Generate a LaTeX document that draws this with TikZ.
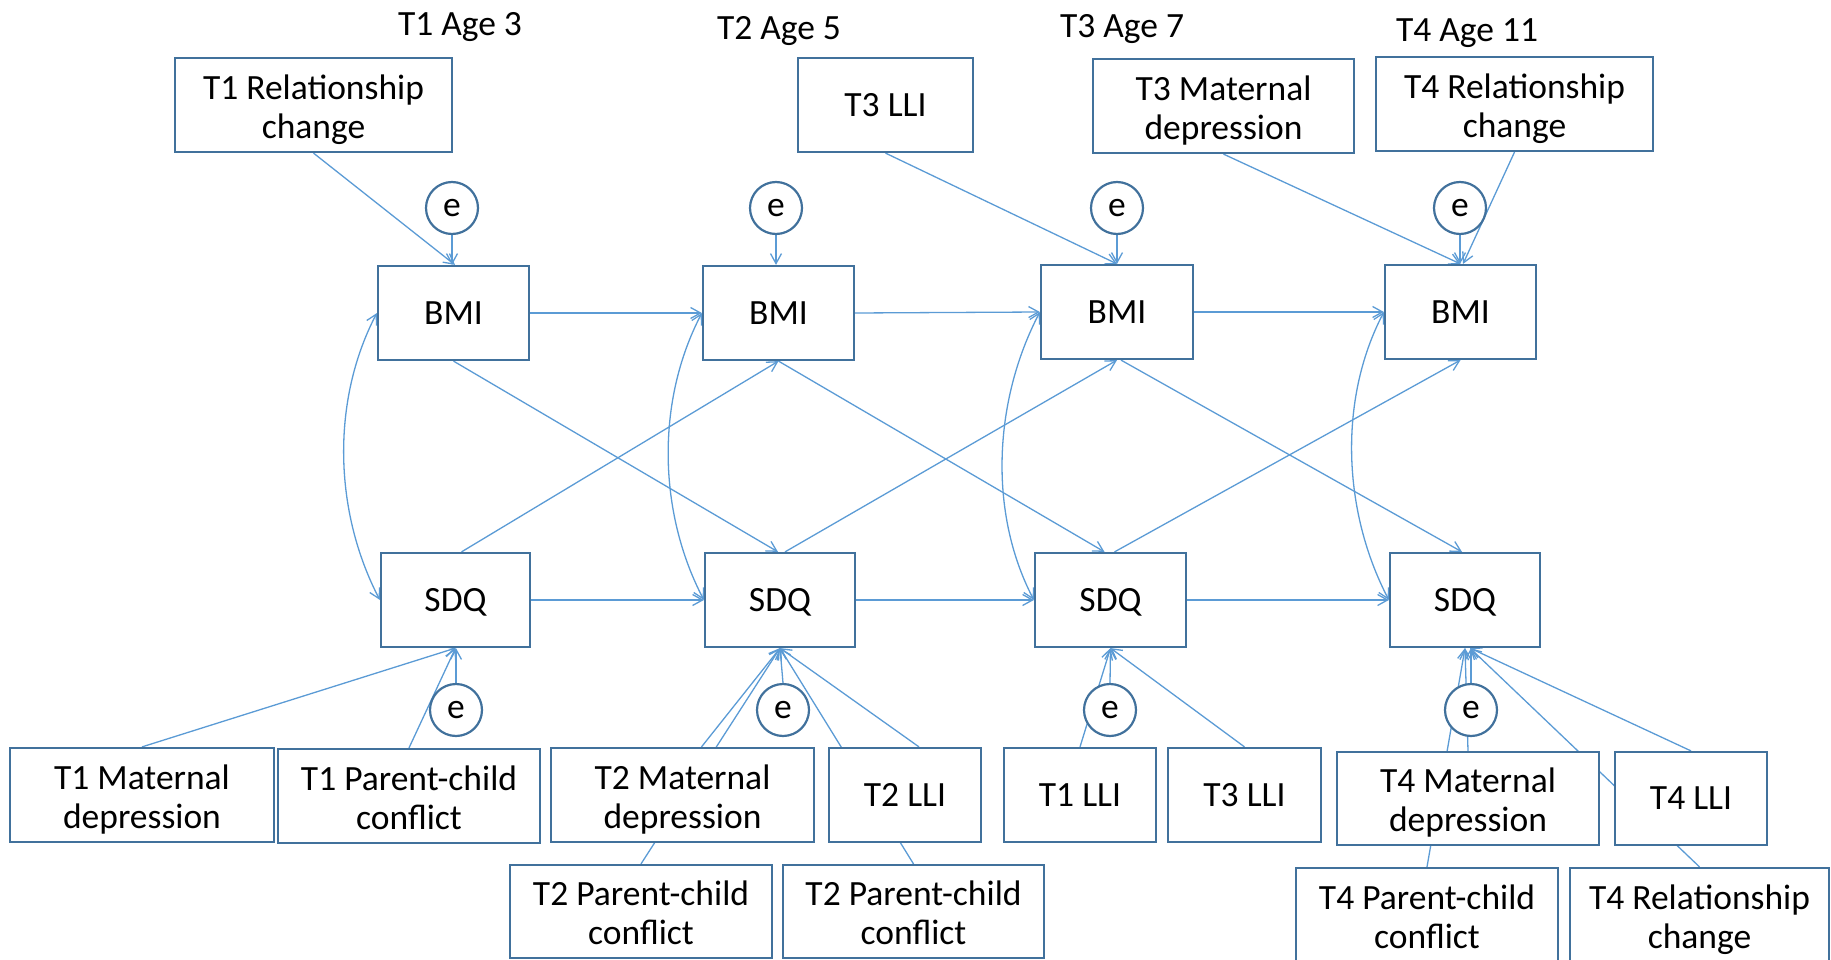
\documentclass[tikz,border=0pt]{standalone}
\usepackage{fontspec}
\setmainfont{Carlito}
\usetikzlibrary{arrows.meta}
\definecolor{boxblue}{HTML}{41719C}
\definecolor{linkblue}{HTML}{5B9BD5}
\pgfdeclarelayer{links}
\pgfsetlayers{links,main}
% centred lines of a box label, pushed down by half of the optional top padding
\newcommand\boxlines[2][7pt]{\raisebox{0pt}[\dimexpr\height+#1\relax][\depth]{\begin{tabular}{@{}c@{}}#2\end{tabular}}}
\begin{document}
\begin{tikzpicture}[x=1pt,y=-1pt,
  every node/.style={font=\fontsize{35.5}{39}\selectfont, text=black},
  box/.style={draw=boxblue, line width=2.2pt, fill=white, align=center, inner sep=0pt},
  ecirc/.style={circle, draw=boxblue, line width=2.2pt, fill=white, minimum size=52pt, inner sep=0pt},
  link/.style={draw=linkblue, line width=1.3pt, -{Straight Barb[length=10pt,width=11pt]}},
  dlink/.style={draw=linkblue, line width=1.3pt, {Straight Barb[length=10pt,width=11pt]}-{Straight Barb[length=10pt,width=11pt]}}
]
\useasboundingbox (0,0) rectangle (1831,960);

% wave headings
\node[anchor=base] (h1) at (460,35.5) {T1 Age 3};
\node[anchor=base] (h2) at (779,39.5) {T2 Age 5};
\node[anchor=base] (h3) at (1122,37.5) {T3 Age 7};
\node[anchor=base] (h4) at (1467,41.5) {T4 Age 11};

% predictors of BMI
\node[box, minimum width=277pt, minimum height=94pt] (rc1)  at (313.5,105) {\boxlines[11.5pt]{T1 Relationship\\change}};
\node[box, minimum width=175pt, minimum height=94pt] (lli3t) at (885.5,105) {\boxlines{T3 LLI}};
\node[box, minimum width=261pt, minimum height=94pt] (md3)  at (1223.5,106) {\boxlines[11.5pt]{T3 Maternal\\depression}};
\node[box, minimum width=277pt, minimum height=94pt] (rc4)  at (1514.5,104) {\boxlines[11.5pt]{T4 Relationship\\change}};

% residuals of BMI
\node[ecirc] (e1) at (452,208) {e};
\node[ecirc] (e2) at (776,208) {e};
\node[ecirc] (e3) at (1117,208) {e};
\node[ecirc] (e4) at (1460,208) {e};

% BMI row
\node[box, minimum width=151pt, minimum height=94pt] (bmi1) at (453.5,313) {\boxlines{BMI}};
\node[box, minimum width=151pt, minimum height=94pt] (bmi2) at (778.5,313) {\boxlines{BMI}};
\node[box, minimum width=152pt, minimum height=94pt] (bmi3) at (1117,312) {\boxlines{BMI}};
\node[box, minimum width=151pt, minimum height=94pt] (bmi4) at (1460.5,312) {\boxlines{BMI}};

% SDQ row
\node[box, minimum width=149pt, minimum height=94pt] (sdq1) at (455.5,600) {\boxlines{SDQ}};
\node[box, minimum width=150pt, minimum height=94pt] (sdq2) at (780,600) {\boxlines{SDQ}};
\node[box, minimum width=151pt, minimum height=94pt] (sdq3) at (1110.5,600) {\boxlines{SDQ}};
\node[box, minimum width=150pt, minimum height=94pt] (sdq4) at (1465,600) {\boxlines{SDQ}};

% residuals of SDQ
\node[ecirc] (e5) at (456,710) {e};
\node[ecirc] (e6) at (783,710) {e};
\node[ecirc] (e7) at (1110,710) {e};
\node[ecirc] (e8) at (1471,710) {e};

% predictors of SDQ, first row
\node[box, minimum width=264pt, minimum height=94pt] (md1)   at (142,795) {\boxlines[11.5pt]{T1 Maternal\\depression}};
\node[box, minimum width=262pt, minimum height=94pt] (pcc1)  at (409,796) {\boxlines[11.5pt]{T1 Parent-child\\conflict}};
\node[box, minimum width=263pt, minimum height=94pt] (md2)   at (682.5,795) {\boxlines[11.5pt]{T2 Maternal\\depression}};
\node[box, minimum width=152pt, minimum height=94pt] (lli2)  at (905,795) {\boxlines{T2 LLI}};
\node[box, minimum width=152pt, minimum height=94pt] (lli1)  at (1080,795) {\boxlines{T1 LLI}};
\node[box, minimum width=153pt, minimum height=94pt] (lli3b) at (1244.5,795) {\boxlines{T3 LLI}};
\node[box, minimum width=262pt, minimum height=93pt] (md4)   at (1468,798.5) {\boxlines[11.5pt]{T4 Maternal\\depression}};
\node[box, minimum width=152pt, minimum height=93pt] (lli4)  at (1691,798.5) {\boxlines{T4 LLI}};

% predictors of SDQ, second row
\node[box, minimum width=262pt, minimum height=93pt] (pcc2a) at (641,911.5) {\boxlines[11.5pt]{T2 Parent-child\\conflict}};
\node[box, minimum width=261pt, minimum height=93pt] (pcc2b) at (913.5,911.5) {\boxlines[11.5pt]{T2 Parent-child\\conflict}};
\node[box, minimum width=262pt, minimum height=94pt] (pcc4)  at (1427,915) {\boxlines[11.5pt]{T4 Parent-child\\conflict}};
\node[box, minimum width=259pt, minimum height=94pt] (rc4b)  at (1699.5,915) {\boxlines[11.5pt]{T4 Relationship\\change}};

\begin{pgfonlayer}{links}
% paths into BMI
\draw[link] (rc1.south) -- ([xshift=1.5pt]bmi1.north);
\draw[link] (lli3t.south) -- (bmi3.north);
\draw[link] (md3.south) -- (bmi4.north);
\draw[link] (rc4.south) -- ([xshift=2.5pt]bmi4.north);
\draw[link] (e1.south) -- (e1.south |- bmi1.north);
\draw[link] (e2.south) -- (e2.south |- bmi2.north);
\draw[link] (e3.south) -- (e3.south |- bmi3.north);
\draw[link] (e4.south) -- (e4.south |- bmi4.north);

% stability paths
\draw[link] (bmi1.east) -- (bmi2.west);
\draw[link] (bmi2.east) -- (bmi3.west);
\draw[link] (bmi3.east) -- (bmi4.west);
\draw[link] (sdq1.east) -- (sdq2.west);
\draw[link] (sdq2.east) -- (sdq3.west);
\draw[link] (sdq3.east) -- (sdq4.west);

% cross-lagged paths
\draw[link] (bmi1.south) -- ([xshift=-2pt]sdq2.north);
\draw[link] ([xshift=6pt]sdq1.north) -- (bmi2.south);
\draw[link] (bmi2.south) -- ([xshift=-6pt]sdq3.north);
\draw[link] ([xshift=5pt]sdq2.north) -- (bmi3.south);
\draw[link] ([xshift=4pt]bmi3.south) -- ([xshift=-3pt]sdq4.north);
\draw[link] ([xshift=4pt]sdq3.north) -- (bmi4.south);

% within-wave covariances
\draw[dlink] (bmi1.west) .. controls +(-46,88) and +(-46,-88) .. (sdq1.west);
\draw[dlink] (bmi2.west) .. controls +(-46,88) and +(-46,-88) .. (sdq2.west);
\draw[dlink] (bmi3.west) .. controls +(-46,88) and +(-46,-88) .. (sdq3.west);
\draw[dlink] (bmi4.west) .. controls +(-46,88) and +(-46,-88) .. (sdq4.west);

% paths into SDQ
\draw[link] (md1.north) -- (sdq1.south);
\draw[link] (pcc1.north) -- (sdq1.south);
\draw[link] (e5.north) -- (e5.north |- sdq1.south);
\draw[link] (pcc2a.north) -- (sdq2.south);
\draw[link] ([xshift=19pt]md2.north) -- (sdq2.south);
\draw[link] (e6.north) -- (sdq2.south);
\draw[link] ([xshift=14pt]lli2.north) -- (sdq2.south);
\draw[link] (pcc2b.north) -- (sdq2.south);
\draw[link] (lli1.north) -- (sdq3.south);
\draw[link] (e7.north) -- (sdq3.south);
\draw[link] (lli3b.north) -- (sdq3.south);
\draw[link] (pcc4.north) -- (sdq4.south);
\draw[link] (md4.north) -- (sdq4.south);
\draw[link] (e8.north) -- (e8.north |- sdq4.south);
\draw[link] (lli4.north) -- ([xshift=5pt]sdq4.south);
\draw[link] (rc4b.north) -- ([xshift=5pt]sdq4.south);
\end{pgfonlayer}
\end{tikzpicture}
\end{document}
